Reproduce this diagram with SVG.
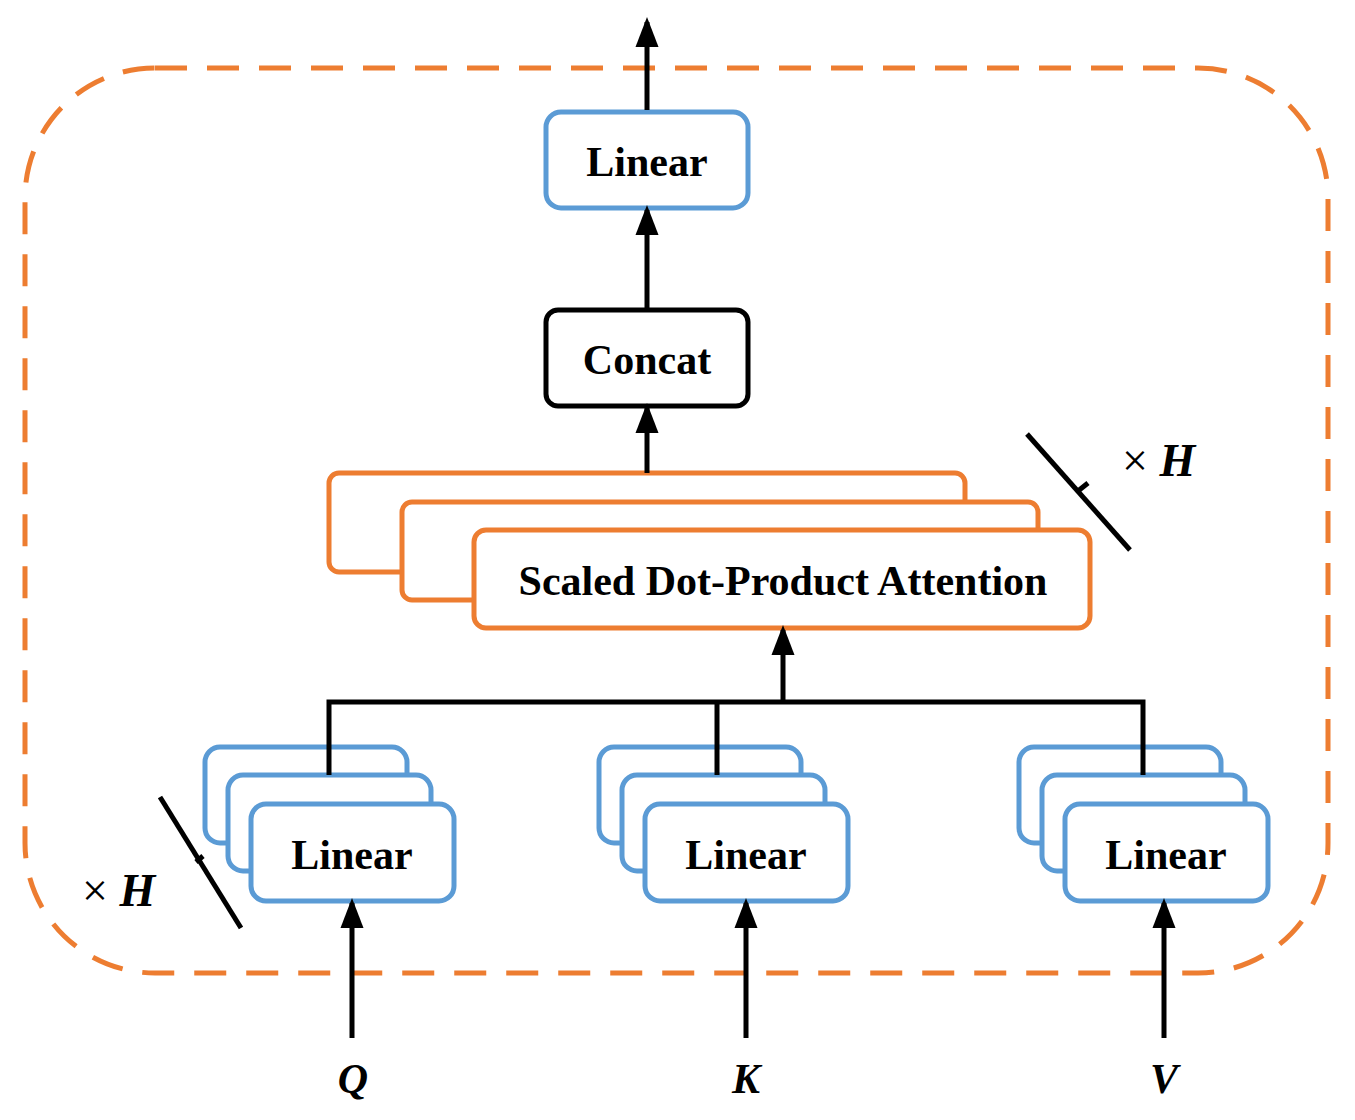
<svg xmlns="http://www.w3.org/2000/svg" width="1355" height="1120" viewBox="0 0 1355 1120">
<style>
.b{fill:#fff;stroke:#5B9BD5;stroke-width:5}
.o{fill:#fff;stroke:#ED7D31;stroke-width:5}
.l{stroke:#000;stroke-width:5;fill:none}
.t{font-family:"Liberation Serif",serif;font-weight:bold;font-size:42px;text-anchor:middle}
.i{font-family:"Liberation Serif",serif;font-weight:bold;font-style:italic;font-size:42px;text-anchor:middle}
.x{font-family:"Liberation Serif",serif;font-size:46px}
</style>
<defs><marker id="a" markerWidth="6" markerHeight="6" refX="5" refY="3" orient="auto" markerUnits="strokeWidth" viewBox="0 0 6 6"><path d="M0,0.7L6,3L0,5.3z" fill="#000"/></marker></defs>
<rect x="25" y="68" width="1303" height="905" rx="130" fill="none" stroke="#ED7D31" stroke-width="5" stroke-dasharray="32,20"/>
<g id="linear-top"><rect class="b" x="546" y="112" width="202" height="96" rx="15"/><text class="t" x="647" y="176">Linear</text></g>
<g id="concat"><rect x="546" y="310" width="202" height="96" rx="12" fill="#fff" stroke="#000" stroke-width="5"/><text class="t" x="647" y="374">Concat</text></g>
<g id="sdpa">
<rect class="o" x="329" y="473" width="636" height="99" rx="10"/>
<rect class="o" x="402" y="502" width="636" height="98" rx="10"/>
<rect class="o" x="474" y="530" width="616" height="98" rx="12"/>
<text class="t" x="783" y="595">Scaled Dot-Product Attention</text>
</g>
<g id="hx1"><line class="l" x1="1027" y1="434" x2="1130" y2="550"/><line class="l" x1="1078" y1="491" x2="1088" y2="483"/><text class="x" x="1122" y="476">× <tspan font-weight="bold" font-style="italic">H</tspan></text></g>
<g id="hx2"><line class="l" x1="160" y1="797" x2="241" y2="928"/><line class="l" x1="196" y1="862" x2="203" y2="856"/><text class="x" x="82" y="906">× <tspan font-weight="bold" font-style="italic">H</tspan></text></g>
<g id="linear-q"><rect class="b" x="205" y="747" width="202" height="96" rx="15"/><rect class="b" x="228" y="775" width="203" height="96" rx="15"/><rect class="b" x="251" y="804" width="203" height="97" rx="15"/><text class="t" x="352" y="869">Linear</text></g>
<g id="linear-k"><rect class="b" x="599" y="747" width="202" height="96" rx="15"/><rect class="b" x="622" y="775" width="203" height="96" rx="15"/><rect class="b" x="645" y="804" width="203" height="97" rx="15"/><text class="t" x="746" y="869">Linear</text></g>
<g id="linear-v"><rect class="b" x="1019" y="747" width="202" height="96" rx="15"/><rect class="b" x="1042" y="775" width="203" height="96" rx="15"/><rect class="b" x="1065" y="804" width="203" height="97" rx="15"/><text class="t" x="1166" y="869">Linear</text></g>
<g id="labels"><text class="i" x="353" y="1093">Q</text><text class="i" x="746" y="1093">K</text><text class="i" x="1164" y="1093">V</text></g>
<g id="connectors">
<line class="l" x1="647" y1="110" x2="647" y2="22" marker-end="url(#a)"/>
<line class="l" x1="647" y1="308" x2="647" y2="210" marker-end="url(#a)"/>
<line class="l" x1="647" y1="473" x2="647" y2="408" marker-end="url(#a)"/>
<line class="l" x1="783" y1="702" x2="783" y2="630" marker-end="url(#a)"/>
<path class="l" d="M329,775V702H1143V775M717,702V775"/>
<line class="l" x1="352" y1="1038" x2="352" y2="903" marker-end="url(#a)"/>
<line class="l" x1="746" y1="1038" x2="746" y2="903" marker-end="url(#a)"/>
<line class="l" x1="1164" y1="1038" x2="1164" y2="903" marker-end="url(#a)"/>
</g>
</svg>
